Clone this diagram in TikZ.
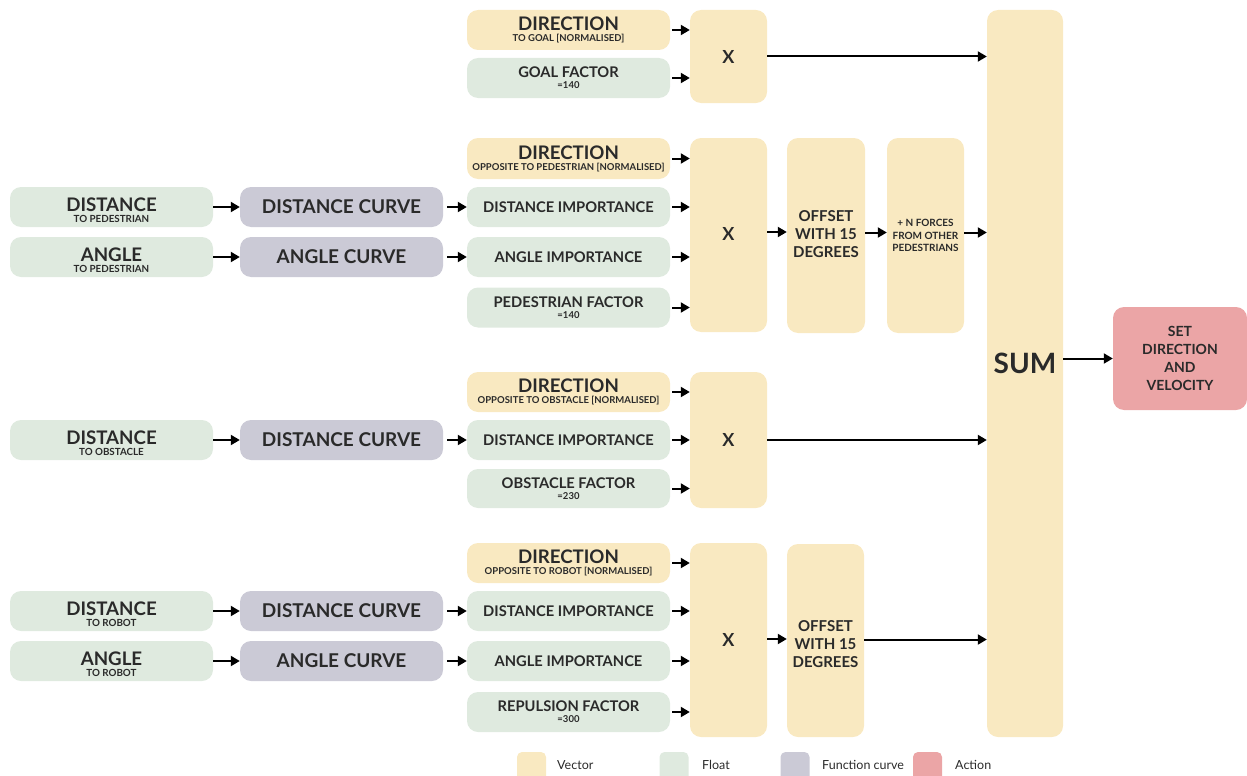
\documentclass[tikz,border=0pt]{standalone}
\usepackage{fontspec}
\setmainfont{Lato}
\usetikzlibrary{arrows.meta}
\definecolor{cvec}{HTML}{F9E9C1}
\definecolor{cflt}{HTML}{DFEADF}
\definecolor{cfun}{HTML}{CBCAD6}
\definecolor{cact}{HTML}{EBA5A6}
\definecolor{ctxt}{HTML}{2A2A2A}
\newcommand\fzBig{\fontsize{18.7}{18}\selectfont}
\newcommand\fzCur{\fontsize{19}{18}\selectfont}
\newcommand\fzMed{\fontsize{14.7}{16}\selectfont}
\newcommand\lowr{\rule{0pt}{20.5pt}}
\tikzset{
  base/.style={rounded corners=11pt, inner sep=0pt, align=center, text=ctxt},
  vec/.style={base, fill=cvec},
  flt/.style={base, fill=cflt},
  fun/.style={base, fill=cfun},
  actb/.style={base, fill=cact},
  wide/.style={minimum width=203pt, minimum height=40pt},
  dirline/.style={font=\bfseries\fontsize{9.5}{11}\selectfont},
  facline/.style={font=\bfseries\fontsize{9.5}{11}\selectfont},
  srcline/.style={font=\bfseries\fontsize{9.8}{11}\selectfont},
  oneline/.style={font=\bfseries\fzMed},
  curvelbl/.style={font=\bfseries\fzCur},
  xbox/.style={vec, minimum width=77pt, font=\bfseries\fontsize{18}{18}\selectfont},
  tall/.style={vec, minimum width=77pt, font=\bfseries\fontsize{15}{18}\selectfont},
  arr/.style={line width=2pt, -{Triangle[length=9pt,width=10pt]}},
  legsq/.style={rounded corners=5pt, minimum width=29pt, minimum height=38pt, inner sep=0pt},
  legtxt/.style={anchor=west, text=ctxt, font=\fontsize{12.5}{13}\selectfont, inner sep=0pt}
}
\begin{document}
\begin{tikzpicture}[x=1pt,y=-1pt]
\useasboundingbox (0,0) rectangle (1247,776);
\clip (0,0) rectangle (1247,776);
% ---------- goal ----------
\node[vec,wide,dirline] (gDir) at (568.5,30) {{\fzBig DIRECTION}\\TO GOAL [NORMALISED]};
\node[flt,wide,facline] (gFac) at (568.5,78) {{\fzMed GOAL FACTOR}\\=140};
\node[xbox,minimum height=93pt] (X1) at (728.5,56.5) {X};
% ---------- pedestrian ----------
\node[flt,wide,srcline] (dP) at (111.5,207) {\lowr{\fzBig DISTANCE}\\TO PEDESTRIAN};
\node[flt,wide,srcline] (aP) at (111.5,257) {\lowr{\fzBig ANGLE}\\TO PEDESTRIAN};
\node[fun,wide,curvelbl] (dPC) at (341.5,207) {DISTANCE CURVE};
\node[fun,wide,curvelbl] (aPC) at (341.5,257) {ANGLE CURVE};
\node[vec,wide,dirline,minimum height=41pt] (pDir) at (568.5,158.5) {{\fzBig DIRECTION}\\OPPOSITE TO PEDESTRIAN [NORMALISED]};
\node[flt,wide,oneline] (pDI) at (568.5,207) {DISTANCE IMPORTANCE};
\node[flt,wide,oneline] (pAI) at (568.5,257) {ANGLE IMPORTANCE};
\node[flt,wide,facline] (pFac) at (568.5,307.5) {{\fzMed PEDESTRIAN FACTOR}\\=140};
\node[xbox,minimum height=194pt] (X2) at (728.5,235) {\raisebox{3pt}{X}};
\node[tall,minimum height=195pt,minimum width=78pt] (off1) at (826,235.5) {OFFSET\\WITH 15\\DEGREES\rule[-3pt]{0pt}{0pt}};
\node[vec,minimum width=77pt,minimum height=195pt,font=\bfseries\fontsize{10}{12.5}\selectfont] (nf) at (925.5,235.5) {+ N FORCES\\FROM OTHER\\PEDESTRIANS};
% ---------- obstacle ----------
\node[flt,wide,srcline] (dO) at (111.5,440) {\lowr{\fzBig DISTANCE}\\TO OBSTACLE};
\node[fun,wide,curvelbl] (dOC) at (341.5,440) {DISTANCE CURVE};
\node[vec,wide,dirline] (oDir) at (568.5,392) {{\fzBig DIRECTION}\\OPPOSITE TO OBSTACLE [NORMALISED]};
\node[flt,wide,oneline] (oDI) at (568.5,440) {DISTANCE IMPORTANCE};
\node[flt,wide,facline,minimum height=39pt] (oFac) at (568.5,488.5) {{\fzMed OBSTACLE FACTOR}\\=230};
\node[xbox,minimum height=136pt] (X3) at (728.5,440) {X};
% ---------- robot ----------
\node[flt,wide,srcline] (dR) at (111.5,611) {\lowr{\fzBig DISTANCE}\\TO ROBOT};
\node[flt,wide,srcline] (aR) at (111.5,661) {\lowr{\fzBig ANGLE}\\TO ROBOT};
\node[fun,wide,curvelbl] (dRC) at (341.5,611) {DISTANCE CURVE};
\node[fun,wide,curvelbl] (aRC) at (341.5,661) {ANGLE CURVE};
\node[vec,wide,dirline] (rDir) at (568.5,563) {{\fzBig DIRECTION}\\OPPOSITE TO ROBOT [NORMALISED]};
\node[flt,wide,oneline] (rDI) at (568.5,611) {DISTANCE IMPORTANCE};
\node[flt,wide,oneline] (rAI) at (568.5,661) {ANGLE IMPORTANCE};
\node[flt,wide,facline] (rFac) at (568.5,712) {{\fzMed REPULSION FACTOR}\\=300};
\node[xbox,minimum height=194pt] (X4) at (728.5,640) {X};
\node[tall,minimum height=193pt] (off2) at (825.5,640.5) {\rule{0pt}{19pt}OFFSET\\WITH 15\\DEGREES};
% ---------- sum / action ----------
\node[vec,minimum width=76pt,minimum height=727pt,font=\bfseries\fontsize{28}{28}\selectfont] (sum) at (1025,373.5) {\raisebox{21pt}{SUM}};
\node[actb,minimum width=134pt,minimum height=103pt,font=\bfseries\fontsize{14}{18}\selectfont] (act) at (1180,358.5) {SET\\DIRECTION\\AND\\VELOCITY};
% ---------- arrows ----------
\foreach \a/\b in {gDir/X1,gFac/X1,pDir/X2,pDI/X2,pAI/X2,pFac/X2,oDir/X3,oDI/X3,oFac/X3,rDir/X4,rDI/X4,rAI/X4,rFac/X4}
  \draw[arr,shorten <=2pt] (\a.east) -- (\a.east -| \b.west);
\foreach \a/\b in {dP/dPC,aP/aPC,dO/dOC,dR/dRC,aR/aRC}
  \draw[arr] (\a.east) -- (\b.west);
\foreach \a/\b in {dPC/pDI,aPC/pAI,dOC/oDI,dRC/rDI,aRC/rAI}
  \draw[arr,shorten <=4pt] (\a.east) -- (\b.west);
\draw[arr] (X1.east) -- (X1.east -| sum.west);
\draw[arr] ([yshift=3pt]X2.east) -- ([yshift=3pt]X2.east -| off1.west);
\draw[arr] ([yshift=3pt]off1.east) -- ([yshift=3pt]off1.east -| nf.west);
\draw[arr] ([yshift=3pt]nf.east) -- ([yshift=3pt]nf.east -| sum.west);
\draw[arr] (X3.east) -- (X3.east -| sum.west);
\draw[arr] ([yshift=1pt]X4.east) -- ([yshift=1pt]X4.east -| off2.west);
\draw[arr] ([yshift=1pt]off2.east) -- ([yshift=1pt]off2.east -| sum.west);
\draw[arr] (sum.east |- act.west) -- (act.west);
% ---------- legend ----------
\node[legsq,fill=cvec] (lgV) at (531.5,771) {};
\node[legtxt] (lgVt) at (557,765) {Vector};
\node[legsq,fill=cflt] (lgF) at (674,771) {};
\node[legtxt] (lgFt) at (702,765) {Float};
\node[legsq,fill=cfun] (lgC) at (795,771) {};
\node[legtxt] (lgCt) at (822,765) {Function curve};
\node[legsq,fill=cact] (lgA) at (927.5,771) {};
\node[legtxt] (lgAt) at (955,765) {Action};
\end{tikzpicture}
\end{document}
